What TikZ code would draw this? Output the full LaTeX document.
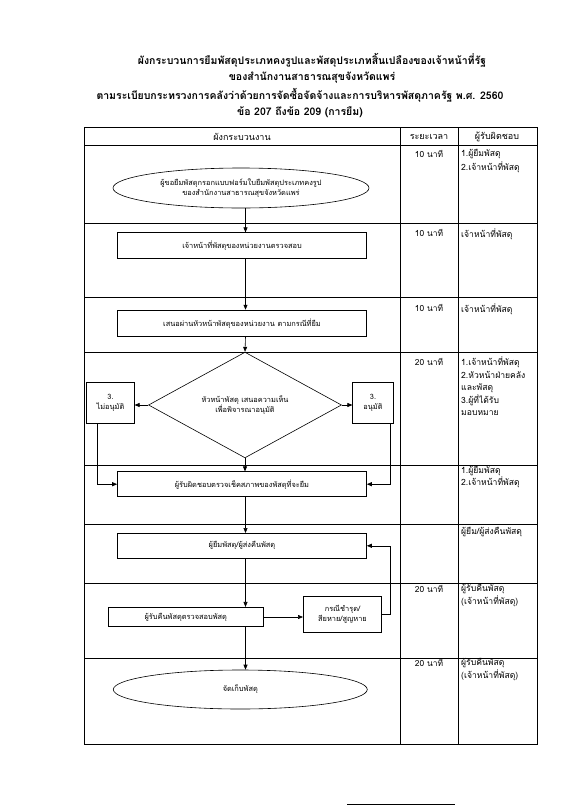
\documentclass[tikz,border=0pt]{standalone}
\usepackage{fontspec}
\setmainfont{Loma}[Script=Thai]
\usetikzlibrary{arrows.meta,shapes.geometric}
\begin{document}
\begin{tikzpicture}[x=1pt,y=-1pt,
  tbl/.style={line width=0.7pt},
  shp/.style={draw,line width=0.6pt,inner sep=1pt,align=center,font=\fontsize{7.4}{10}\selectfont},
  proc/.style={shp,rectangle,minimum width=249pt,minimum height=25pt},
  term/.style={shp,ellipse,minimum width=256pt,minimum height=40pt},
  dec/.style={shp,diamond,minimum width=193pt,minimum height=83pt,inner sep=0pt},
  flow/.style={line width=0.6pt,-{Triangle[length=5pt,width=4pt]}},
  ttl/.style={font=\fontsize{10.5}{13}\selectfont\bfseries},
  hdr/.style={font=\fontsize{9}{11}\selectfont},
  cell/.style={font=\fontsize{8.6}{12.5}\selectfont,align=left,anchor=north west,inner sep=0pt},
  tcell/.style={font=\fontsize{8.4}{10}\selectfont,inner sep=0pt}
]
\useasboundingbox (0,0) rectangle (588,806);
% title
\node[ttl] (t1) at (312,60) {ผังกระบวนการยืมพัสดุประเภทคงรูปและพัสดุประเภทสิ้นเปลืองของเจ้าหน้าที่รัฐ};
\node[ttl] (t2) at (312,78) {ของสำนักงานสาธารณสุขจังหวัดแพร่};
\node[ttl] (t3) at (300,95) {ตามระเบียบกระทรวงการคลังว่าด้วยการจัดซื้อจัดจ้างและการบริหารพัสดุภาครัฐ พ.ศ. 2560};
\node[ttl] (t4) at (300,112) {ข้อ 207 ถึงข้อ 209 (การยืม)};
% table
\draw[tbl] (84,127) rectangle (537,744);
\draw[tbl] (400,127) -- (400,744);
\draw[tbl] (458,127) -- (458,744);
\foreach \yy in {145.7,223,297.3,352,465,524,583,658}
  \draw[tbl] (84,\yy) -- (537,\yy);
\node[hdr] (h1) at (242,136.5) {ผังกระบวนงาน};
\node[hdr] (h2) at (429,136.5) {ระยะเวลา};
\node[hdr] (h3) at (497,136.5) {ผู้รับผิดชอบ};
% times
\node[tcell] (m1) at (429,154) {10 นาที};
\node[tcell] (m2) at (429,233) {10 นาที};
\node[tcell] (m3) at (429,308) {10 นาที};
\node[tcell] (m4) at (429,361.7) {20 นาที};
\node[tcell] (m7) at (429,589.3) {20 นาที};
\node[tcell] (m8) at (429,663.3) {20 นาที};
% responsible
\node[cell] (r1) at (461,149) {1.ผู้ยืมพัสดุ\\[1.5pt]2.เจ้าหน้าที่พัสดุ};
\node[cell] (r2) at (461,228) {เจ้าหน้าที่พัสดุ};
\node[cell] (r3) at (461,303) {เจ้าหน้าที่พัสดุ};
\node[cell] (r4) at (461,356.7) {1.เจ้าหน้าที่พัสดุ\\2.หัวหน้าฝ่ายคลัง\\และพัสดุ\\3.ผู้ที่ได้รับ\\มอบหมาย};
\node[cell] (r5) at (461,466) {1.ผู้ยืมพัสดุ\\2.เจ้าหน้าที่พัสดุ};
\node[cell] (r6) at (461,527) {ผู้ยืม/ผู้ส่งคืนพัสดุ};
\node[cell] (r7) at (461,584) {ผู้รับคืนพัสดุ\\[1pt](เจ้าหน้าที่พัสดุ)};
\node[cell] (r8) at (461,658) {ผู้รับคืนพัสดุ\\[1pt](เจ้าหน้าที่พัสดุ)};
% flow
\coordinate (sp) at (245.5,0);
\coordinate (lbx) at (97,0);
\coordinate (rbx) at (390,0);
\node[term] (e1) at (241,188) {ผู้ขอยืมพัสดุกรอกแบบฟอร์มใบยืมพัสดุประเภทคงรูป\\ของสำนักงานสาธารณสุขจังหวัดแพร่};
\node[proc,minimum height=25.6pt] (b2) at (242,245.5) {เจ้าหน้าที่พัสดุของหน่วยงานตรวจสอบ};
\node[proc,minimum height=26.5pt] (b3) at (242,323.3) {เสนอผ่านหัวหน้าพัสดุของหน่วยงาน ตามกรณีที่ยืม};
\node[dec] (d) at (245,405) {หัวหน้าพัสดุ เสนอความเห็น\\เพื่อพิจารณาอนุมัติ};
\node[proc,minimum width=47.6pt,minimum height=40.6pt] (lb) at (110.5,403) {3.\\ไม่อนุมัติ};
\node[proc,minimum width=40.6pt,minimum height=40.6pt] (rb) at (373,403) {3.\\อนุมัติ};
\node[proc] (chk) at (242,484.2) {ผู้รับผิดชอบตรวจเช็คสภาพของพัสดุที่จะยืม};
\node[proc] (bor) at (242,545.8) {ผู้ยืมพัสดุ/ผู้ส่งคืนพัสดุ};
\node[proc,minimum width=155pt,minimum height=19.5pt] (ret) at (185.8,617) {ผู้รับคืนพัสดุตรวจสอบพัสดุ};
\node[proc,minimum width=78.4pt,minimum height=36pt] (dmg) at (342.5,614.7) {กรณีชำรุด/\\สียหาย/สูญหาย};
\node[term,minimum width=254pt,minimum height=39pt] (e2) at (240.3,689.5) {จัดเก็บพัสดุ};
\draw[flow] (e1.south -| sp) -- (b2.north -| sp);
\draw[flow] (b2.south -| sp) -- (b3.north -| sp);
\draw[flow] (b3.south -| sp) -- (d.north);
\draw[flow] (d.west) -- (d.west -| lb.east);
\draw[flow] (d.east) -- (d.east -| rb.west);
\draw[flow] (d.south) -- (chk.north -| d.south);
\draw[flow] (lb.south -| lbx) -- (lbx |- chk.west) -- (chk.west);
\draw[flow] (rb.south -| rbx) -- (rbx |- chk.east) -- (chk.east);
\draw[flow] (chk.south -| sp) -- (bor.north -| sp);
\draw[flow] (bor.south -| sp) -- (ret.north -| sp);
\draw[flow] (ret.east) -- (dmg.west |- ret.east);
\draw[flow] (dmg.east) -- (rbx |- dmg.east) -- (rbx |- bor.east) -- (bor.east);
\draw[flow] (ret.south -| sp) -- (e2.north -| sp);
% page edge mark
\draw[line width=0.8pt] (347,804.5) -- (455,804.5);
\end{tikzpicture}
\end{document}
